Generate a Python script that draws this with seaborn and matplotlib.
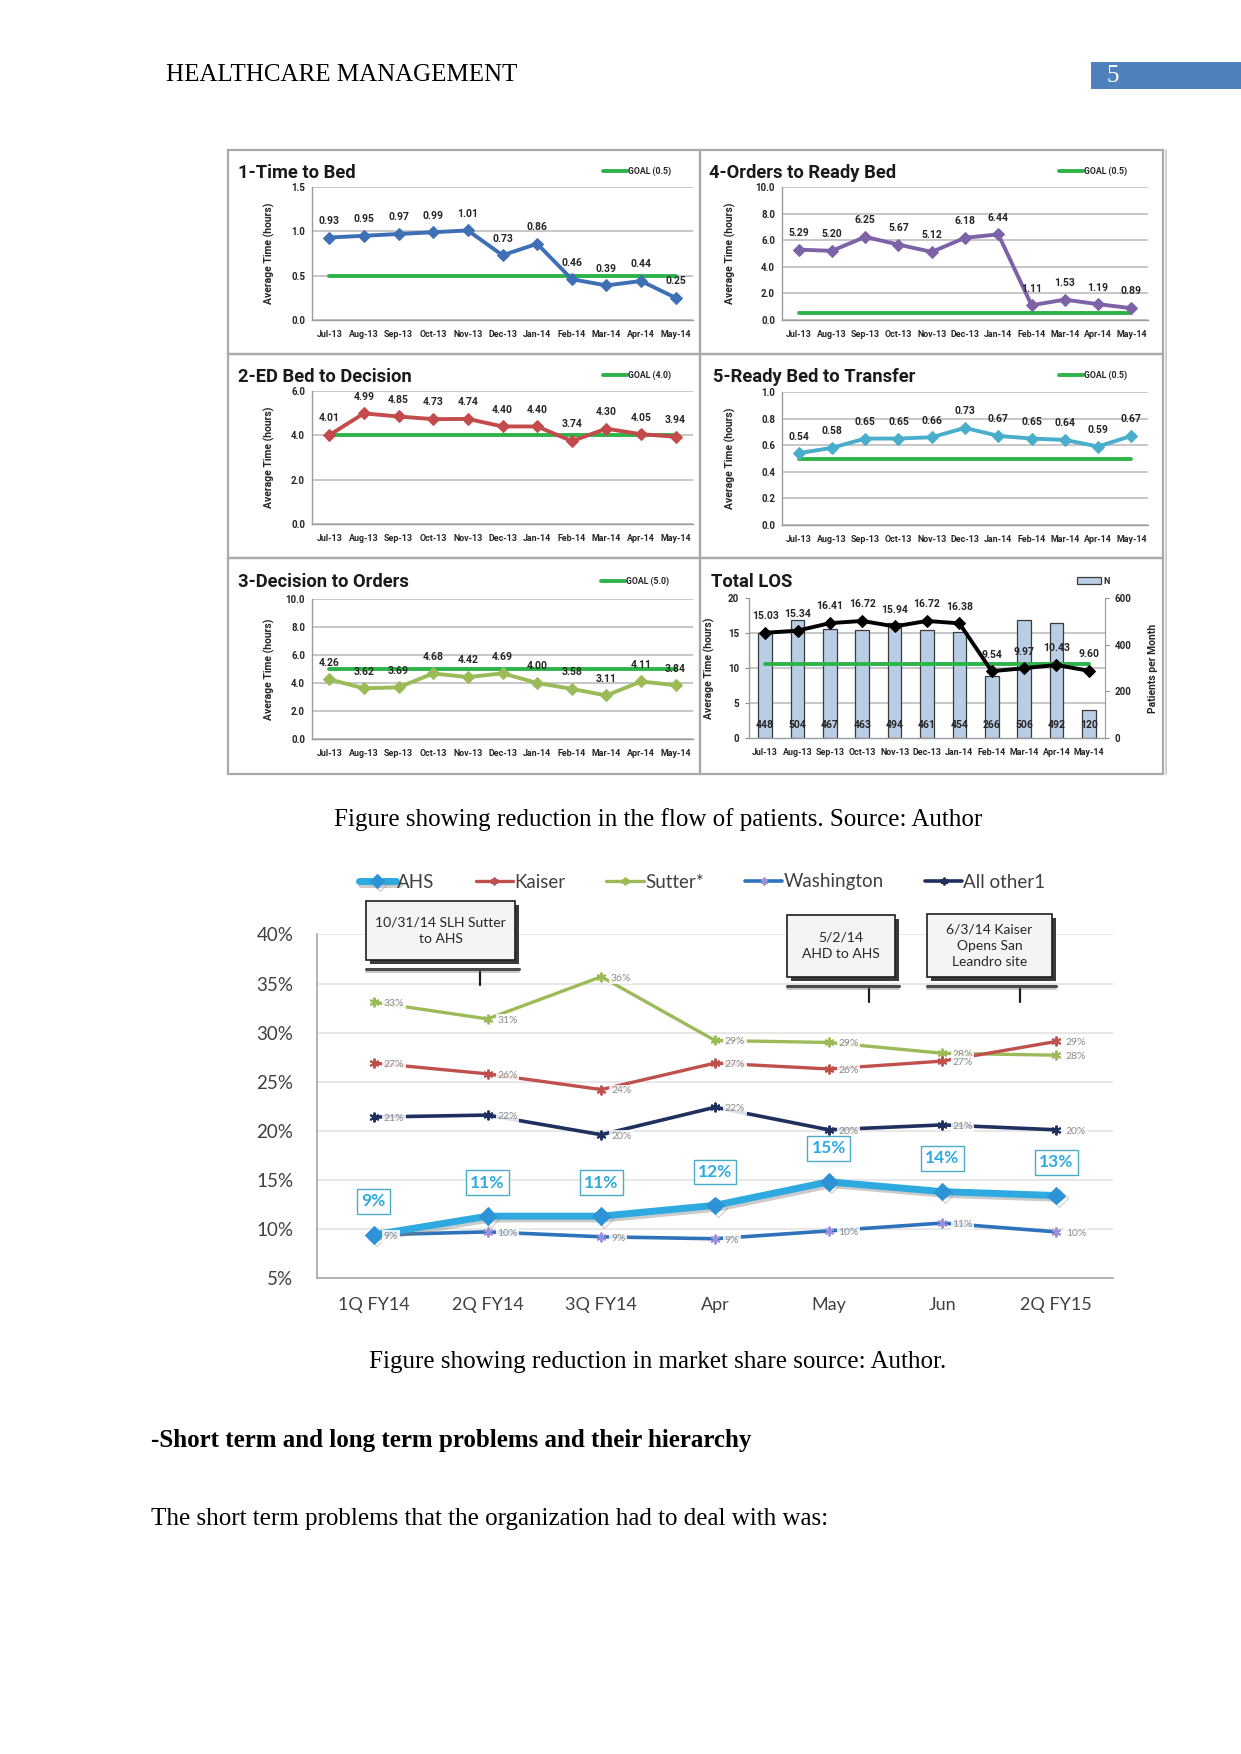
import numpy as np
import pandas as pd
import matplotlib
matplotlib.use("Agg")
import matplotlib.pyplot as plt
import matplotlib.patheffects as pe
from matplotlib.patches import Rectangle, Patch
from matplotlib.lines import Line2D
import seaborn as sns

# ---------------- data ----------------
MONTHS = ["Jul-13", "Aug-13", "Sep-13", "Oct-13", "Nov-13", "Dec-13",
          "Jan-14", "Feb-14", "Mar-14", "Apr-14", "May-14"]
TIME_TO_BED = [0.93, 0.95, 0.97, 0.99, 1.01, 0.73, 0.86, 0.46, 0.39, 0.44, 0.25]
ORDERS_TO_READY_BED = [5.29, 5.20, 6.25, 5.67, 5.12, 6.18, 6.44, 1.11, 1.53, 1.19, 0.89]
ED_BED_TO_DECISION = [4.01, 4.99, 4.85, 4.73, 4.74, 4.40, 4.40, 3.74, 4.30, 4.05, 3.94]
READY_BED_TO_TRANSFER = [0.54, 0.58, 0.65, 0.65, 0.66, 0.73, 0.67, 0.65, 0.64, 0.59, 0.67]
DECISION_TO_ORDERS = [4.26, 3.62, 3.69, 4.68, 4.42, 4.69, 4.00, 3.58, 3.11, 4.11, 3.84]
TOTAL_LOS = [15.03, 15.34, 16.41, 16.72, 15.94, 16.72, 16.38, 9.54, 9.97, 10.43, 9.60]
TOTAL_LOS_N = [448, 504, 467, 463, 494, 461, 454, 266, 506, 492, 120]
GOAL_TIME_TO_BED = 0.5
GOAL_ORDERS_TO_READY = 0.5
GOAL_ED_BED = 4.0
GOAL_READY_TO_TRANSFER = 0.5
GOAL_DECISION_TO_ORDERS = 5.0
LOS_TARGET = 10.6

QUARTERS = ["1Q FY14", "2Q FY14", "3Q FY14", "Apr", "May", "Jun", "2Q FY15"]
AHS = [9.4, 11.3, 11.3, 12.4, 14.8, 13.8, 13.4]
KAISER = [26.9, 25.8, 24.2, 26.9, 26.3, 27.1, 29.1]
SUTTER = [33.1, 31.4, 35.7, 29.2, 29.0, 27.9, 27.7]
WASHINGTON = [9.4, 9.7, 9.2, 9.0, 9.8, 10.6, 9.7]
ALL_OTHER = [21.4, 21.6, 19.6, 22.4, 20.1, 20.6, 20.1]

# ---------------- setup ----------------
sns.set_style("white")
plt.rcParams["font.family"] = ["Lato", "DejaVu Sans"]
W, H = 1241, 1754
fig = plt.figure(figsize=(W / 100, H / 100), dpi=100)
fig.patch.set_facecolor("white")

SERIF = ["Liberation Serif", "DejaVu Serif"]
PF = ["Roboto", "DejaVu Sans"]
BODY = 18
TXT = "#262626"
GRID = "#B8B8B8"
GOAL_GREEN = "#2DB34A"


def fx(x):
    return x / W


def fy(y):
    return 1 - y / H


def px_rect(x0, y0, x1, y1):
    return [x0 / W, 1 - y1 / H, (x1 - x0) / W, (y1 - y0) / H]


def fig_rect(x0, y0, x1, y1, **kw):
    r = Rectangle((fx(x0), fy(y1)), (x1 - x0) / W, (y1 - y0) / H,
                  transform=fig.transFigure, **kw)
    fig.add_artist(r)
    return r


def fig_line(xs, ys, **kw):
    fig.add_artist(Line2D([fx(x) for x in xs], [fy(y) for y in ys],
                          transform=fig.transFigure, **kw))


# ---------------- page text ----------------
fig.text(fx(166), fy(75), "HEALTHCARE MANAGEMENT", family=SERIF, fontsize=BODY,
         color="black", ha="left", va="center")
fig_rect(1091, 62, 1241, 89, facecolor="#4F81BD", edgecolor="none")
fig.text(fx(1107), fy(75.5), "5", family=SERIF, fontsize=BODY, color="white",
         ha="left", va="center")

# panel frames
for cell in [(228, 150, 700, 354), (700, 150, 1163, 354),
             (228, 354, 700, 558), (700, 354, 1163, 558),
             (228, 558, 700, 774), (700, 558, 1163, 774)]:
    fig_rect(*cell, facecolor="none", edgecolor="#A9A9A9", lw=1.6)
fig_line([1166, 1166], [150, 774], color="#C8C8C8", lw=1.2)


def style_kpi(ax, ylim, yticks, yfmt):
    n = len(MONTHS)
    ax.set_xlim(-0.5, n - 0.5)
    ax.set_ylim(*ylim)
    ax.set_yticks(yticks)
    ax.set_yticklabels([yfmt.format(t) for t in yticks], fontsize=7,
                       fontweight="bold", color=TXT, family=PF)
    ax.set_xticks(range(n))
    ax.set_xticklabels(MONTHS, fontsize=6.4, fontweight="bold", color=TXT, family=PF)
    ax.set_xticks(np.arange(-0.5, n, 1.0), minor=True)
    ax.tick_params(axis="x", which="major", length=0, pad=7)
    ax.tick_params(axis="x", which="minor", length=4, color="#8C8C8C", width=0.9)
    ax.tick_params(axis="y", which="both", length=0, pad=5)
    ax.grid(axis="y", color=GRID, lw=1.1)
    ax.set_axisbelow(True)
    for s in ["top", "right"]:
        ax.spines[s].set_visible(False)
    for s in ["left", "bottom"]:
        ax.spines[s].set_color("#9C9C9C")
        ax.spines[s].set_linewidth(1.0)
    ax.set_xlabel("")


def kpi_panel(rect, title, title_xy, values, color, goal, goal_label,
              ylim, yticks, yfmt, legend_xy, ylabel_dx):
    ax = fig.add_axes(px_rect(*rect))
    ax.patch.set_alpha(0)
    pos = np.arange(len(MONTHS))
    sns.lineplot(x=pos, y=[goal] * len(pos), ax=ax, color=GOAL_GREEN, lw=2.8,
                 label=goal_label, zorder=2)
    sns.lineplot(x=pos, y=values, ax=ax, color=color, lw=2.8, marker="D",
                 markersize=6, markeredgecolor=color, zorder=3)
    for i, v in enumerate(values):
        ax.annotate(f"{v:.2f}", (i, v), xytext=(0, 12), textcoords="offset points",
                    ha="center", va="center", fontsize=7.5, fontweight="bold",
                    color=TXT, zorder=5, family=PF)
    style_kpi(ax, ylim, yticks, yfmt)
    ax.set_ylabel("Average Time (hours)", fontsize=7.5, fontweight="bold", color=TXT,
                  family=PF)
    ax.yaxis.set_label_coords(-ylabel_dx / (rect[2] - rect[0]), 0.5)
    h, l = ax.get_legend_handles_labels()
    ax.legend(h, l, loc="center right", bbox_to_anchor=(fx(legend_xy[0]), fy(legend_xy[1])),
              bbox_transform=fig.transFigure, frameon=False,
              prop={"size": 6.3, "weight": "bold", "family": PF}, handlelength=2.8,
              handletextpad=0.05, borderpad=0, borderaxespad=0)
    fig.text(fx(title_xy[0]), fy(title_xy[1]), title, fontsize=13.2,
             fontweight="bold", color="#1A1A1A", ha="left", va="center", family=PF)
    return ax


kpi_panel((312, 187, 693, 320), "1-Time to Bed", (238, 173), TIME_TO_BED,
          "#3F6FB5", GOAL_TIME_TO_BED, "GOAL (0.5)", (0, 1.5),
          [0, 0.5, 1.0, 1.5], "{:.1f}", (671, 171), 37)
kpi_panel((782, 187, 1148, 320), "4-Orders to Ready Bed", (709, 173),
          ORDERS_TO_READY_BED, "#7E62A8", GOAL_ORDERS_TO_READY, "GOAL (0.5)",
          (0, 10), [0, 2, 4, 6, 8, 10], "{:.1f}", (1127, 171), 46)
kpi_panel((312, 391, 693, 524), "2-ED Bed to Decision", (238, 377),
          ED_BED_TO_DECISION, "#C34B4B", GOAL_ED_BED, "GOAL (4.0)",
          (0, 6), [0, 2, 4, 6], "{:.1f}", (671, 375), 37)
kpi_panel((782, 392, 1148, 525), "5-Ready Bed to Transfer", (713, 377),
          READY_BED_TO_TRANSFER, "#49AECB", GOAL_READY_TO_TRANSFER, "GOAL (0.5)",
          (0, 1.0), [0, 0.2, 0.4, 0.6, 0.8, 1.0], "{:.1f}", (1127, 375), 46)
kpi_panel((312, 599, 693, 739), "3-Decision to Orders", (238, 582),
          DECISION_TO_ORDERS, "#9BBB59", GOAL_DECISION_TO_ORDERS, "GOAL (5.0)",
          (0, 10), [0, 2, 4, 6, 8, 10], "{:.1f}", (669, 581), 37)

# ---- Total LOS panel ----
rect = (749, 598, 1105, 738)
ax = fig.add_axes(px_rect(*rect))
ax2 = ax.twinx()
pos = np.arange(len(MONTHS))
sns.barplot(x=pos, y=TOTAL_LOS_N, ax=ax2, color="#B9CDE5", edgecolor="#3A3A3A",
            linewidth=0.9, width=0.42, saturation=1)
for i, n in enumerate(TOTAL_LOS_N):
    ax2.text(i, 55, f"{n}", ha="center", va="center", fontsize=7.5,
             fontweight="bold", color=TXT, family=PF)
ax2.set_ylim(0, 600)
ax2.set_yticks([0, 200, 400, 600])
ax2.set_yticklabels(["0", "200", "400", "600"], fontsize=7, fontweight="bold",
                    color=TXT, family=PF)
ax2.set_yticks([150, 300, 450, 600], minor=True)
ax2.grid(axis="y", which="minor", color=GRID, lw=1.1)
ax2.grid(axis="y", which="major", visible=False)
ax2.set_axisbelow(True)
ax2.tick_params(axis="y", which="minor", length=0)
ax2.tick_params(axis="y", which="major", length=3, color="#8C8C8C", pad=4)
ax2.set_ylabel("Patients per Month", fontsize=7.5, fontweight="bold", color=TXT, family=PF)
ax2.yaxis.set_label_coords(1.12, 0.5)
ax2.spines["top"].set_visible(False)
ax2.spines["right"].set_color("#9C9C9C")
ax2.spines["left"].set_visible(False)
ax2.spines["bottom"].set_visible(False)

ax.set_zorder(ax2.get_zorder() + 1)
ax.patch.set_visible(False)
sns.lineplot(x=pos, y=[LOS_TARGET] * len(pos), ax=ax, color=GOAL_GREEN, lw=2.8, zorder=2)
sns.lineplot(x=pos, y=TOTAL_LOS, ax=ax, color="black", lw=2.8, marker="D",
             markersize=6, markeredgecolor="black", zorder=3)
for i, v in enumerate(TOTAL_LOS):
    ax.annotate(f"{v:.2f}", (i, v), xytext=(0, 12), textcoords="offset points",
                ha="center", va="center", fontsize=7.5, fontweight="bold", color=TXT,
                family=PF)
style_kpi(ax, (0, 20), [0, 5, 10, 15, 20], "{:d}")
ax.grid(False)
ax.tick_params(axis="y", which="major", length=3, color="#8C8C8C", pad=4)
ax.set_ylabel("Average Time (hours)", fontsize=7.5, fontweight="bold", color=TXT, family=PF)
ax.yaxis.set_label_coords(-34 / (rect[2] - rect[0]), 0.5)
ax.legend([Patch(facecolor="#B9CDE5", edgecolor="#3A3A3A", lw=0.9)], ["N"],
          loc="center right", bbox_to_anchor=(fx(1110), fy(581)),
          bbox_transform=fig.transFigure, frameon=False,
          prop={"size": 6.5, "weight": "bold", "family": PF}, handlelength=2.6,
          handleheight=0.7, handletextpad=0.3, borderpad=0, borderaxespad=0)
fig.text(fx(711), fy(582), "Total LOS", fontsize=13.2, fontweight="bold",
         color="#1A1A1A", ha="left", va="center", family=PF)

fig.text(fx(658), fy(820), "Figure showing reduction in the flow of patients. Source: Author",
         family=SERIF, fontsize=BODY, color="black", ha="center", va="center")

# ---------------- market share chart ----------------
mrect = (317, 934.5, 1113, 1278)
mx = fig.add_axes(px_rect(*mrect))
qpos = np.arange(len(QUARTERS))

series = [
    ("Sutter*", SUTTER, "#9BBB59", "#9BBB59", 2.4, (6, 2, 0), 7, 3),
    ("Kaiser", KAISER, "#C0504D", "#C0504D", 2.4, (6, 2, 0), 7, 3),
    ("All other1", ALL_OTHER, "#1F2F5E", "#1F2F5E", 2.6, (6, 2, 0), 7, 3),
    ("Washington", WASHINGTON, "#2F72BC", "#9C8FDA", 2.6, (6, 2, 0), 7, 3),
]
for name, vals, col, mcol, lw, mk, ms, z in series:
    sns.lineplot(x=qpos, y=vals, ax=mx, color=col, lw=lw, marker=mk,
                 markersize=ms, markeredgecolor=mcol, markeredgewidth=1.4,
                 label=name, zorder=z)
    for i, v in enumerate(vals):
        mx.annotate(f"{v:.0f}%", (i, v), xytext=(7, -1), textcoords="offset points",
                    ha="left", va="center", fontsize=7.5, color="#8A8A8A", zorder=6,
                    bbox=dict(boxstyle="square,pad=0.15", fc="white", ec="none", alpha=0.85))

sns.lineplot(x=qpos, y=AHS, ax=mx, color="#2EAAE1", lw=5, marker="D", markersize=9,
             markerfacecolor="#2B93D6", markeredgecolor="#2B93D6", label="AHS", zorder=5,
             path_effects=[pe.SimpleLineShadow(offset=(2, -2), shadow_color="#7F7F7F", alpha=0.4),
                           pe.Normal()])
for i, v in enumerate(AHS):
    mx.annotate(f"{v:.0f}%", (i, v), xytext=(0, 24), textcoords="offset points",
                ha="center", va="center", fontsize=12.5, fontweight="bold",
                color="#2EAAE1", zorder=7,
                bbox=dict(boxstyle="square,pad=0.25", fc="white", ec="#4BACC6", lw=1))

mx.set_xlim(-0.5, len(QUARTERS) - 0.5)
mx.set_ylim(5, 40)
yt = [5, 10, 15, 20, 25, 30, 35, 40]
mx.set_yticks(yt)
mx.set_yticklabels([f"{t}%" for t in yt], fontsize=13.5, color="#404040")
mx.set_xticks(qpos)
mx.set_xticklabels(QUARTERS, fontsize=13, color="#404040")
mx.set_xticks(np.arange(-0.5, len(QUARTERS), 1.0), minor=True)
mx.tick_params(axis="x", which="major", length=0, pad=14)
mx.tick_params(axis="x", which="minor", length=6, color="#A6A6A6", width=1)
mx.tick_params(axis="y", length=5, color="#A6A6A6", width=1, pad=12)
mx.grid(axis="y", color="#E3E3E3", lw=1.2)
mx.set_axisbelow(True)
for s in ["top", "right"]:
    mx.spines[s].set_visible(False)
for s in ["left", "bottom"]:
    mx.spines[s].set_color("#A6A6A6")
    mx.spines[s].set_linewidth(1.2)
mx.set_xlabel("")
mx.set_ylabel("")

h, l = mx.get_legend_handles_labels()
order = ["AHS", "Kaiser", "Sutter*", "Washington", "All other1"]
hd = dict(zip(l, h))
mx.legend([hd[k] for k in order], order, loc="center",
          bbox_to_anchor=(fx(702), fy(882)), bbox_transform=fig.transFigure,
          ncol=5, frameon=False, fontsize=13.5, handlelength=2.0,
          handletextpad=0.05, columnspacing=2.2, labelcolor="#404040",
          borderpad=0, borderaxespad=0, markerscale=0.8)

# annotation call-out boxes
boxes = [
    ((366, 901, 515, 960), "10/31/14 SLH Sutter\nto AHS", 480),
    ((787, 915, 895, 977), "5/2/14\nAHD to AHS", 869),
    ((927, 914, 1052, 977), "6/3/14 Kaiser\nOpens San\nLeandro site", 1020),
]
for (x0, y0, x1, y1), txt, cx in boxes:
    fig_rect(x0 + 4, y0 + 4, x1 + 4, y1 + 4, facecolor="#3A3A3A", edgecolor="none")
    fig_rect(x0, y0, x1, y1, facecolor="#F4F4F4", edgecolor="#1F1F1F", lw=1.2)
    fig.text(fx((x0 + x1) / 2), fy((y0 + y1) / 2), txt, fontsize=10, color=TXT,
             ha="center", va="center", linespacing=1.45)
    fig_line([x0, x1 + 4], [y1 + 9, y1 + 9], color="#4A4A4A", lw=2.2)
    fig_line([x0, x1 + 4], [y1 + 12, y1 + 12], color="#BDBDBD", lw=1.2)
    fig_line([cx, cx], [y1 + 12, y1 + 25], color="#1F1F1F", lw=1.6)

fig.text(fx(658), fy(1362), "Figure showing reduction in market share source: Author.",
         family=SERIF, fontsize=BODY, color="black", ha="center", va="center")
fig.text(fx(151), fy(1440), "-Short term and long term problems and their hierarchy",
         family=SERIF, fontsize=BODY, fontweight="bold", color="black",
         ha="left", va="center")
fig.text(fx(151), fy(1519), "The short term problems that the organization had to deal with was:",
         family=SERIF, fontsize=BODY, color="black", ha="left", va="center")

fig.savefig("out.png", dpi=100)
